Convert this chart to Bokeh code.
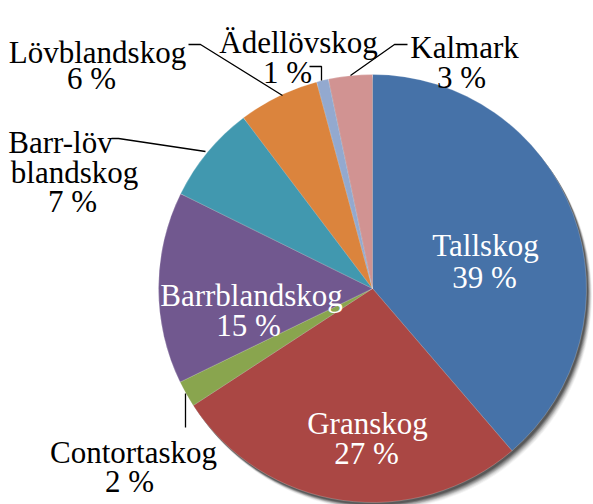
import math
from bokeh.plotting import figure
from bokeh.models import Range1d, ColumnDataSource
from bokeh.core.properties import value
from bokeh.embed import file_html
from bokeh.resources import INLINE

# ---- data ----
categories = ["Tallskog", "Granskog", "Contortaskog", "Barrblandskog",
              "Barr-löv blandskog", "Lövblandskog", "Ädellövskog", "Kalmark"]
shares = [38.7, 27.1, 2.0, 14.5, 7.4, 6.1, 0.9, 3.3]
pct_labels = ["39 %", "27 %", "2 %", "15 %", "7 %", "6 %", "1 %", "3 %"]
colors = ["#4672A8", "#AA4744", "#89A54E", "#71588F",
          "#4198AF", "#DB843D", "#93A9CF", "#D19392"]

# ---- layout (screen pixels of the 593x504 window) ----
W, H = 593, 504
CX, CY, R = 372, 288, 214
FONT = value("Liberation Serif")
FS = "31px"

def sy(y):
    return H - y

p = figure(width=W, height=H, output_backend="svg", toolbar_location=None,
           x_range=Range1d(0, W), y_range=Range1d(0, H),
           min_border=0)
p.axis.visible = False
p.grid.visible = False
p.outline_line_color = None
p.background_fill_color = "white"
p.border_fill_color = "white"

# soft shadow
for off, a in [(10, 0.04), (9, 0.06), (8, 0.08), (7, 0.10), (6, 0.12), (5, 0.15), (4, 0.18), (3, 0.22)]:
    p.circle(x=[CX + off * 0.55], y=[sy(CY + off * 0.75)], radius=R,
             fill_color="#000000", fill_alpha=a, line_color=None)

# wedges, clockwise from 12 o'clock
total = sum(shares)
starts, ends = [], []
acc = 0.0
for s in shares:
    a0 = math.pi / 2 - 2 * math.pi * acc / total
    acc += s
    a1 = math.pi / 2 - 2 * math.pi * acc / total
    starts.append(a0)
    ends.append(a1)

src = ColumnDataSource(dict(cat=categories, start=starts, end=ends, color=colors))
p.wedge(x=CX, y=sy(CY), radius=R, start_angle="start", end_angle="end",
        direction="clock", fill_color="color", line_color="white",
        line_alpha=0.35, line_width=0.6, source=src)

# label lines: (text, center x, baseline y, color)
label_lines = [
    ("Tallskog", 485, 245, "white"), (pct_labels[0], 484, 277, "white"),
    ("Granskog", 367, 423, "white"), (pct_labels[1], 366, 453, "white"),
    ("Contortaskog", 133, 452, "black"), (pct_labels[2], 129, 481, "black"),
    ("Barrblandskog", 251, 295, "white"), (pct_labels[3], 248, 325, "white"),
    ("Barr-löv", 60, 142, "black"), ("blandskog", 74, 172, "black"),
    (pct_labels[4], 72, 201, "black"),
    ("Lövblandskog", 97, 52, "black"), (pct_labels[5], 91, 78, "black"),
    ("Ädellövskog", 298, 42, "black"), (pct_labels[6], 287, 72, "black"),
    ("Kalmark", 464, 47, "black"), (pct_labels[7], 461, 77, "black"),
]
tsrc = ColumnDataSource(dict(
    x=[l[1] for l in label_lines], y=[sy(l[2]) for l in label_lines],
    t=[l[0] for l in label_lines], c=[l[3] for l in label_lines]))
p.text(x="x", y="y", text="t", text_color="c", source=tsrc,
       text_font=FONT, text_font_size=FS, text_align="center",
       text_baseline="alphabetic")

# leader lines
leaders = [
    [(188, 44), (200, 44), (282, 95)],
    [(309, 66), (321, 66), (321, 80)],
    [(407, 44), (394, 44), (350, 75)],
    [(111, 138), (118, 138), (205, 151)],
    [(185, 393), (185, 427)],
]
p.multi_line(xs=[[pt[0] for pt in L] for L in leaders],
             ys=[[sy(pt[1]) for pt in L] for L in leaders],
             line_color="black", line_width=1.3)

open("out.html", "w").write(file_html(p, INLINE))
